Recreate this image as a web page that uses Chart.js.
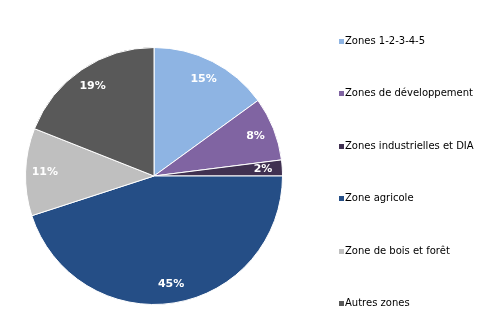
<!DOCTYPE html>
<html>
<head>
<meta charset="utf-8">
<script src="https://cdn.jsdelivr.net/npm/chart.js@4.4.0/dist/chart.umd.min.js"></script>
<style>
  html, body { margin: 0; padding: 0; background: #fff; }
  #wrap { width: 491px; height: 332px; }
</style>
</head>
<body>
<div id="wrap"><canvas id="zonesPie" width="491" height="332"></canvas></div>
<script>
// Zone categories and their share of the territory (%)
const zoneLabels = ['Zones 1-2-3-4-5', 'Zones de développement', 'Zones industrielles et DIA',
                    'Zone agricole', 'Zone de bois et forêt', 'Autres zones'];
const zoneShares = [15, 8, 2, 45, 11, 19];
const zoneColors = ['#8EB4E3', '#8064A2', '#403151', '#254E86', '#BFBFBF', '#595959'];

// white bold percentages inside each slice
const sliceLabels = {
  id: 'sliceLabels',
  afterDatasetsDraw(chart) {
    const ctx = chart.ctx;
    const meta = chart.getDatasetMeta(0);
    ctx.save();
    ctx.font = 'bold 11px "DejaVu Sans", Verdana, sans-serif';
    ctx.fillStyle = '#fff';
    ctx.textAlign = 'center';
    ctx.textBaseline = 'middle';
    meta.data.forEach((arc, i) => {
      const p = arc.getProps(['x', 'y', 'startAngle', 'endAngle', 'outerRadius']);
      const mid = (p.startAngle + p.endAngle) / 2;
      const r = p.outerRadius * 0.85;
      ctx.fillText(zoneShares[i] + '%', p.x + Math.cos(mid) * r, p.y + Math.sin(mid) * r);
    });
    ctx.restore();
  }
};

// legend down the right side, items spread over the full height
const sideLegend = {
  id: 'sideLegend',
  afterDraw(chart) {
    const ctx = chart.ctx;
    const labels = chart.data.labels;
    const colors = chart.data.datasets[0].backgroundColor;
    const top = 41.5, step = 52.4, boxX = 339, box = 5;
    ctx.save();
    ctx.font = '10px "DejaVu Sans", Verdana, sans-serif';
    ctx.textBaseline = 'middle';
    ctx.textAlign = 'left';
    labels.forEach((lbl, i) => {
      const y = top + i * step;
      ctx.fillStyle = colors[i];
      ctx.fillRect(boxX, Math.round(y - box / 2), box, box);
      ctx.fillStyle = '#000';
      ctx.fillText(lbl, boxX + box + 1, y);
    });
    ctx.restore();
  }
};

new Chart(document.getElementById('zonesPie').getContext('2d'), {
  type: 'pie',
  data: {
    labels: zoneLabels,
    datasets: [{
      data: zoneShares,
      backgroundColor: zoneColors,
      borderColor: '#ffffff',
      borderWidth: 1
    }]
  },
  options: {
    responsive: false,
    animation: false,
    layout: { padding: { left: 25, right: 208, top: 47, bottom: 27 } },
    plugins: {
      legend: { display: false },
      tooltip: { enabled: false }
    }
  },
  plugins: [sliceLabels, sideLegend]
});
</script>
</body>
</html>
